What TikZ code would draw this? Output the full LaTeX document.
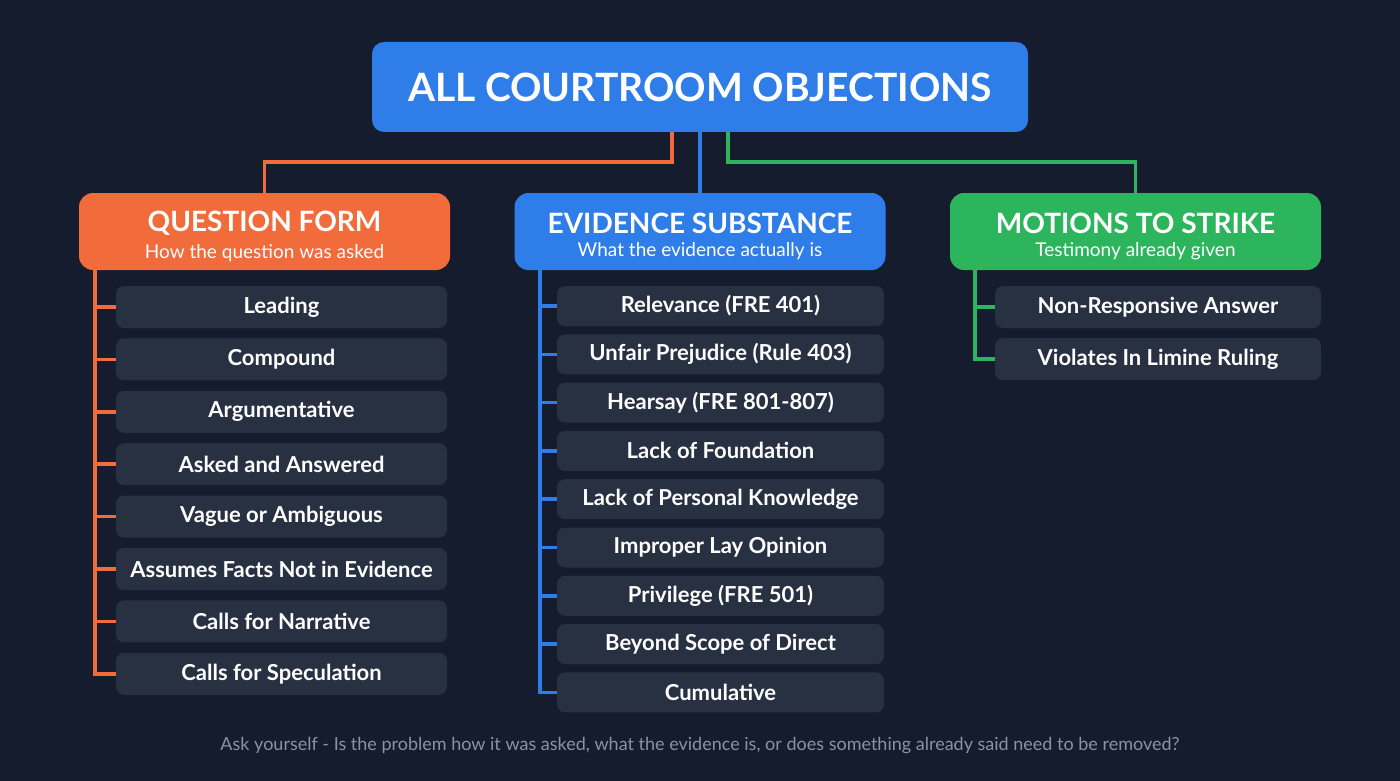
\documentclass[tikz,border=0pt]{standalone}
\usepackage{fontspec}
\setmainfont{Lato}
\usetikzlibrary{positioning}

\definecolor{bgdark}{HTML}{141C2E}
\definecolor{cblue}{HTML}{2F7DE8}
\definecolor{corange}{HTML}{F26B3A}
\definecolor{cgreen}{HTML}{2DB55D}
\definecolor{itemfill}{HTML}{283142}
\definecolor{footgray}{HTML}{8A93A3}

\tikzset{
  titlebox/.style={fill=cblue, rounded corners=12pt, minimum width=656pt, minimum height=90pt,
    text=white, font=\fontsize{39}{44}\selectfont\bfseries},
  catbox/.style={fill=#1, rounded corners=14pt, minimum width=371pt, minimum height=77pt,
    text=white, align=center, inner sep=0pt},
  itembox/.style={fill=itemfill, rounded corners=8pt, minimum width=#1, minimum height=42pt,
    text=white, font=\fontsize{22}{24}\selectfont\bfseries, inner sep=0pt},
  link/.style={draw=#1, line width=3.5pt},
}
\newcommand{\cattext}[2]{{\fontsize{28}{30}\selectfont\bfseries\rule{0pt}{30pt}#1}\\[8pt]{\fontsize{19}{22}\selectfont #2}}

\begin{document}
\begin{tikzpicture}[x=1pt, y=-1pt]
      \fill [bgdark] (0,0) rectangle (1400,781);
      \useasboundingbox (0,0) rectangle (1400,781);
      % title and the three groups
      \node [titlebox] (title) at (700,87) {ALL COURTROOM OBJECTIONS};
      \node [catbox=corange] (qf) at (264.5,231.5) {\cattext{QUESTION FORM}{How the question was asked}};
      \node [catbox=cblue] (es) at (700,231.5) {\cattext{EVIDENCE SUBSTANCE}{What the evidence actually is}};
      \node [catbox=cgreen] (ms) at (1135.5,231.5) {\cattext{MOTIONS TO STRIKE}{Testimony already given}};
      \coordinate (tleft) at (672,132);
      \coordinate (tright) at (728,132);
      \draw [link=corange] (tleft) -- ++(0,30) -| (qf.north);
      \draw [link=cblue] (title.south) -- (es.north);
      \draw [link=cgreen] (tright) -- ++(0,30) -| (ms.north);
      % question form items
      \coordinate (qspine) at (95,270);
      \foreach \i/\txt in {1/Leading, 2/Compound, 3/Argumentative, 4/Asked and Answered,
          5/Vague or Ambiguous, 6/Assumes Facts Not in Evidence, 7/Calls for Narrative,
          8/Calls for Speculation} {
        \node [itembox=331pt] (q\i) at (281.5,{307+52.4*(\i-1)}) {\txt};
        \draw [link=corange] (qspine |- q\i.west) -- (q\i.west);
      }
      \draw [link=corange] (qspine) |- (q8.west);
      % evidence items
      \coordinate (espine) at (540,270);
      \foreach \i/\txt in {1/Relevance (FRE 401), 2/Unfair Prejudice (Rule 403),
          3/Hearsay (FRE 801-807), 4/Lack of Foundation, 5/Lack of Personal Knowledge,
          6/Improper Lay Opinion, 7/Privilege (FRE 501), 8/Beyond Scope of Direct, 9/Cumulative} {
        \node [itembox=327pt, minimum height=40pt] (e\i) at (720.5,{306+48.3*(\i-1)}) {\txt};
        \draw [link=cblue] (espine |- e\i.west) -- (e\i.west);
      }
      \draw [link=cblue] (espine) |- (e9.west);
      % motions items
      \coordinate (mspine) at (975,270);
      \node [itembox=326pt] (m1) at (1158,307) {Non-Responsive Answer};
      \node [itembox=326pt] (m2) at (1158,359) {Violates In Limine Ruling};
      \draw [link=cgreen] (mspine |- m1.west) -- (m1.west);
      \draw [link=cgreen] (mspine) |- (m2.west);
      % footer
      \node [text=footgray, font=\fontsize{18}{22}\selectfont] (foot) at (700,746)
        {Ask yourself - Is the problem how it was asked, what the evidence is, or does something already said need to be removed?};
   \end{tikzpicture}
\end{document}
